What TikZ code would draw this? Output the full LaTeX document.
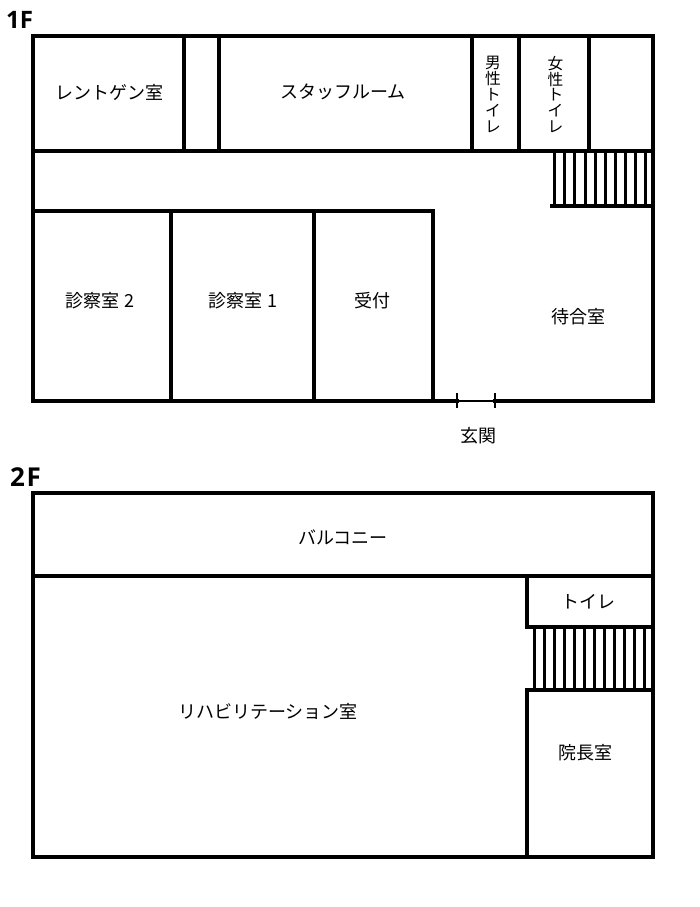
\documentclass[tikz,border=0pt]{standalone}
\usepackage{fontspec}
\setmainfont{Noto Sans CJK JP}
\newfontfamily\labelfont{Open Sans}
\tikzset{
  wall/.style={line width=4pt,line cap=rect,line join=miter},
  tread/.style={line width=3pt},
  thin/.style={line width=2pt},
  room/.style={inner sep=0pt,font=\fontsize{18pt}{18pt}\selectfont},
  stack/.style={inner sep=0pt,align=center,font=\fontsize{15.7pt}{15.9pt}\selectfont},
  floorlabel/.style={inner sep=0pt,font=\labelfont\bfseries\fontsize{24pt}{24pt}\selectfont}
}
\begin{document}
\begin{tikzpicture}[x=1pt,y=-1pt]
\useasboundingbox (0,0) rectangle (700,907);
\fill[white] (0,0) rectangle (700,907);
% stairs 1F
\foreach \i in {0,...,9}{\draw[tread] ({554.7+\i*10.1},151) -- ({554.7+\i*10.1},206);}
% 1F walls
\draw[wall] (457,401) -- (33,401) -- (33,36) -- (653,36) -- (653,401) -- (495,401);
\draw[wall] (33,151) -- (653,151);
\foreach \x in {184,219,472,519,589}{\draw[wall] (\x,36) -- (\x,151);}
\draw[wall] (552,206) -- (653,206);
\draw[wall] (33,211) -- (433,211) -- (433,401);
\foreach \x in {171,314}{\draw[wall] (\x,211) -- (\x,401);}
% door
\coordinate (doorL) at (457,401);
\coordinate (doorR) at (495,401);
\draw[thin] (doorL) -- (doorR);
\draw[thin] (457,393) -- (457,408);
\draw[thin] (495,393) -- (495,408);
% stairs 2F
\foreach \i in {0,...,11}{\draw[tread] ({534.5+\i*10},627) -- ({534.5+\i*10},690);}
% 2F walls
\draw[wall] (33,493) rectangle (653,857);
\draw[wall] (33,576) -- (653,576);
\draw[wall] (527,576) -- (527,627) -- (653,627);
\draw[wall] (653,690) -- (527,690) -- (527,857);
% labels
\node[floorlabel] (f1) at (19.5,20) {1F};
\node[floorlabel,font=\labelfont\bfseries\fontsize{26pt}{26pt}\selectfont] (f2) at (25.5,477) {2\hspace{1.5pt}F};
\node[room] (xray) at (109,92) {レントゲン室};
\node[room] (staff) at (343,92) {スタッフルーム};
\node[stack] (men) at (493,94.5) {男\\性\\ト\\イ\\レ};
\node[stack] (women) at (555.5,94.5) {女\\性\\ト\\イ\\レ};
\node[room] (exam2) at (100,301) {診察室 2};
\node[room] (exam1) at (243,301) {診察室 1};
\node[room] (recep) at (372,301) {受付};
\node[room] (wait) at (578,317) {待合室};
\node[room] (entr) at (478,436) {玄関};
\node[room] (balc) at (343,537) {バルコニー};
\node[room] (toilet) at (588,602) {トイレ};
\node[room] (rehab) at (268,711) {リハビリテーション室};
\node[room] (dir) at (585,753) {院長室};
\end{tikzpicture}
\end{document}
